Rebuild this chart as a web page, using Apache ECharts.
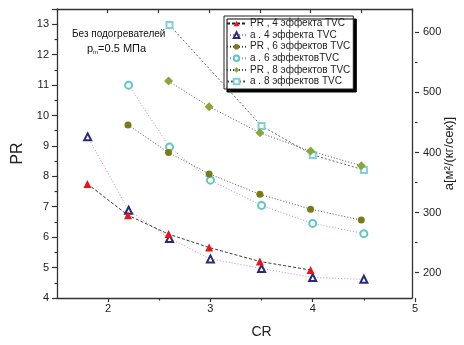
<!DOCTYPE html>
<html><head><meta charset="utf-8">
<script src="https://cdn.jsdelivr.net/npm/echarts@6/dist/echarts.min.js"></script>
<style>html,body{margin:0;padding:0;background:#fff}#c{width:464px;height:345px}</style>
</head><body><div id="c"></div>
<script>
// ---- data ----
const cr4 = [1.8, 2.2, 2.6, 3.0, 3.5, 4.0, 4.5];
const pr4 = [7.75, 6.72, 6.1, 5.66, 5.2, 4.92, null];
const a4  = [426, 304, 257, 223, 207, 192, 189];
const cr6 = [2.2, 2.6, 3.0, 3.5, 4.0, 4.5];
const pr6 = [9.69, 8.78, 8.08, 7.41, 6.92, 6.56];
const a6  = [512, 409, 354, 312, 282, 265];
const cr8 = [2.6, 3.0, 3.5, 4.0, 4.5];
const pr8 = [11.13, 10.29, 9.43, 8.83, 8.35];
const a8  = [612, null, 444, 396, 371];
const names = ['PR , 4 эффекта TVC', 'a . 4 эффекта TVC', 'PR , 6 эффектов TVC',
               'a . 6 эффектовTVC', 'PR , 8 эффектов TVC', 'a . 8 эффектов TVC'];
const xTickLabels = [2, 3, 4, 5];
const prTickLabels = [4, 5, 6, 7, 8, 9, 10, 11, 12, 13];
const aTickLabels = [200, 300, 400, 500, 600];

function pairs(xs, ys) {
  const out = [];
  xs.forEach((x, i) => { if (ys[i] !== null) out.push([x, ys[i]]); });
  return out;
}
const FF = '"Liberation Sans", Arial, sans-serif';
const AX = '#333';
const lbl = {color: '#222', fontFamily: FF, fontSize: 11};

const chart = echarts.init(document.getElementById('c'), null, {renderer: 'canvas'});
const G0 = {left: 57, right: 49, top: 9, bottom: 47};
chart.setOption({
  animation: false,
  backgroundColor: '#fff',
  grid: [
    G0,
    {left: 57, right: 49, top: 32.3, bottom: 72.3},
    {left: 57 + 0.5 * 358 / 3.5, right: 49, top: 9, bottom: 47}
  ],
  xAxis: [
    {type: 'value', gridIndex: 0, position: 'bottom', min: 1.5, max: 5,
     axisLine: {show: true, lineStyle: {color: AX, width: 1.3}},
     axisTick: {show: false}, axisLabel: {show: false}, splitLine: {show: false}},
    {type: 'value', gridIndex: 0, position: 'top', min: 1.5, max: 5, interval: 0.5,
     axisLine: {show: true, lineStyle: {color: AX, width: 1.3}},
     axisTick: {show: true, inside: true, length: 4, lineStyle: {color: AX, width: 1.2}},
     axisLabel: {show: false}, splitLine: {show: false}},
    {type: 'value', gridIndex: 1, min: 1.5, max: 5, show: false},
    {type: 'value', gridIndex: 2, position: 'bottom', min: 2, max: 5, interval: 1,
     axisLine: {show: false},
     axisTick: {show: true, length: 4, lineStyle: {color: AX, width: 1.2}},
     minorTick: {show: true, splitNumber: 2, length: 2.5, lineStyle: {color: AX, width: 1.2}},
     axisLabel: Object.assign({margin: 5,
       formatter: v => xTickLabels.includes(v) ? String(v) : ''}, lbl),
     splitLine: {show: false},
     name: 'CR', nameLocation: 'middle', nameGap: 27,
     nameTextStyle: {fontFamily: FF, fontSize: 14, color: '#222'}}
  ],
  yAxis: [
    {type: 'value', gridIndex: 0, position: 'left', min: 4, max: 13.5, interval: 1,
     axisLine: {show: true, lineStyle: {color: AX, width: 1.3}},
     axisTick: {show: true, length: 5, lineStyle: {color: AX, width: 1.2}},
     minorTick: {show: true, splitNumber: 2, length: 2.5, lineStyle: {color: AX, width: 1.2}},
     axisLabel: Object.assign({margin: 8,
       formatter: v => prTickLabels.includes(v) ? String(v) : ''}, lbl),
     splitLine: {show: false},
     name: 'PR', nameLocation: 'middle', nameGap: 29, nameRotate: 90,
     nameTextStyle: {fontFamily: FF, fontSize: 16, color: '#222'}},
    {type: 'value', gridIndex: 0, position: 'right', min: 0, max: 1,
     axisLine: {show: true, lineStyle: {color: AX, width: 1.3}},
     axisTick: {show: false}, axisLabel: {show: false}, splitLine: {show: false},
     name: 'а[м²/(кг/сек)]', nameLocation: 'middle', nameGap: 31, nameRotate: 90,
     nameTextStyle: {fontFamily: FF, fontSize: 13, color: '#222'}},
    {type: 'value', gridIndex: 1, position: 'right', min: 200, max: 600, interval: 100,
     axisLine: {show: false},
     axisTick: {show: true, length: 4, lineStyle: {color: AX, width: 1.2}},
     minorTick: {show: true, splitNumber: 2, length: 2.5, lineStyle: {color: AX, width: 1.2}},
     axisLabel: Object.assign({margin: 8,
       formatter: v => aTickLabels.includes(v) ? String(v) : ''}, lbl),
     splitLine: {show: false}},
    {type: 'value', gridIndex: 2, show: false, min: 0, max: 1}
  ],
  legend: {
    orient: 'vertical', left: 224, top: 16, padding: [2, 3, 2, 2],
    itemGap: 0.6, itemWidth: 19, itemHeight: 7,
    backgroundColor: '#fff', borderColor: '#222', borderWidth: 1,
    shadowColor: '#000', shadowBlur: 0, shadowOffsetX: 3, shadowOffsetY: 3,
    textStyle: {fontFamily: FF, fontSize: 10, lineHeight: 11, color: '#222', padding: [0, 0, 0, -1]},
    data: names
  },
  graphic: [
    {type: 'text', left: 72, top: 29,
     style: {text: 'Без подогревателей', font: '10px ' + FF, fill: '#111'}},
    {type: 'text', left: 87, top: 43,
     style: {text: '{a|p}{s|m}{a|=0.5 МПа}', fill: '#111',
       rich: {a: {fontSize: 11, fontFamily: FF, lineHeight: 14, verticalAlign: 'middle'},
              s: {fontSize: 6, fontFamily: FF, lineHeight: 6, verticalAlign: 'bottom'}}}}
  ],
  series: [
    {name: names[0], type: 'line', xAxisIndex: 0, yAxisIndex: 0, clip: false,
     data: pairs(cr4, pr4), symbol: 'triangle', symbolSize: 8,
     itemStyle: {color: '#e8141c'}, lineStyle: {color: '#222', width: 0.9, type: [3, 2]}, z: 5},
    {name: names[1], type: 'line', xAxisIndex: 2, yAxisIndex: 2, clip: false,
     data: pairs(cr4, a4), symbol: 'emptyTriangle', symbolSize: 7,
     itemStyle: {color: '#2a2a7a', borderWidth: 0.8}, lineStyle: {color: '#c87ac8', width: 0.9, type: [1, 2]}, z: 4},
    {name: names[2], type: 'line', xAxisIndex: 0, yAxisIndex: 0, clip: false,
     data: pairs(cr6, pr6), symbol: 'circle', symbolSize: 7,
     itemStyle: {color: '#7b7b16'}, lineStyle: {color: '#444', width: 0.9, type: [1, 2]}, z: 5},
    {name: names[3], type: 'line', xAxisIndex: 2, yAxisIndex: 2, clip: false,
     data: pairs(cr6, a6), symbol: 'emptyCircle', symbolSize: 7,
     itemStyle: {color: '#5cc8c8', borderWidth: 0.8}, lineStyle: {color: '#c87ac8', width: 0.9, type: [1, 2]}, z: 4},
    {name: names[4], type: 'line', xAxisIndex: 0, yAxisIndex: 0, clip: false,
     data: pairs(cr8, pr8), symbol: 'diamond', symbolSize: 9,
     itemStyle: {color: '#8aa83a'}, lineStyle: {color: '#444', width: 0.9, type: [1, 2]}, z: 5},
    {name: names[5], type: 'line', xAxisIndex: 2, yAxisIndex: 2, clip: false,
     data: pairs(cr8, a8), symbol: 'emptyRect', symbolSize: 6,
     itemStyle: {color: '#7fd0d8', borderWidth: 0.8}, lineStyle: {color: '#555', width: 0.9, type: [2, 2]}, z: 4}
  ]
});
</script></body></html>
